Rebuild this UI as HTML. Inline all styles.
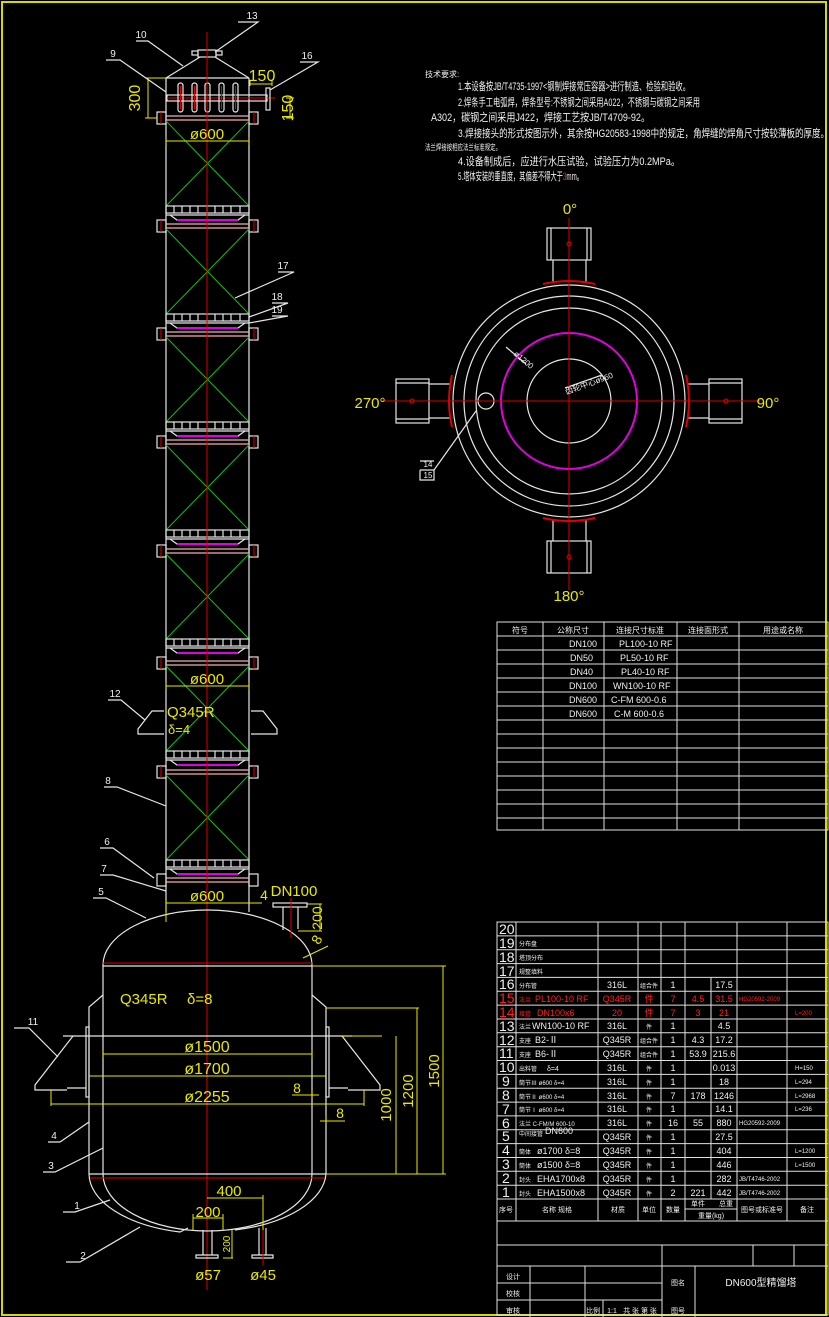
<!DOCTYPE html>
<html><head><meta charset="utf-8"><style>
html,body{margin:0;padding:0;background:#000;}
svg{display:block;}
text{font-family:"Liberation Sans","Noto Sans CJK SC",sans-serif;}
.w{stroke:#e6e6e6;fill:none;stroke-width:1.2}
.y{stroke:#e8e800;fill:none;stroke-width:1}
.r{stroke:#e00000;fill:none;stroke-width:1}
.g{stroke:#10c010;fill:none;stroke-width:1}
.m{stroke:#e000e0;fill:none;stroke-width:2}
.ty{fill:#e8e800}
.tw{fill:#f0f0f0}
.tr{fill:#ff2020}
</style></head><body>
<svg width="829" height="1317" viewBox="0 0 829 1317" xmlns="http://www.w3.org/2000/svg">
<defs>
<g id="sec">
  <rect x="157" y="-6" width="9" height="12" class="w"/>
  <rect x="249" y="-6" width="9" height="12" class="w"/>
  <line x1="161" y1="-6" x2="161" y2="6" class="r"/>
  <line x1="254" y1="-6" x2="254" y2="6" class="r"/>
  <line x1="166" y1="-2" x2="249" y2="-2" stroke="#f0b0b0" stroke-width="1.2"/>
  <line x1="166" y1="2" x2="249" y2="2" stroke="#f0b0b0" stroke-width="1.2"/>
  <line x1="166" y1="3" x2="249" y2="88" class="g"/>
  <line x1="249" y1="3" x2="166" y2="88" class="g"/>
  <rect x="166" y="88" width="83" height="7" class="w" stroke-width="1"/>
  <path d="M174 88v7M182 88v7M190 88v7M198 88v7M207 88v7M215 88v7M223 88v7M231 88v7M240 88v7" class="w" stroke-width="1"/>
  <line x1="166" y1="97" x2="249" y2="97" class="w" stroke-width="1"/>
  <path d="M170 97l7 5h61l7-5" class="w" stroke-width="1"/>
  <line x1="177" y1="102" x2="238" y2="102" class="m"/>
</g>
</defs>
<rect x="2" y="2" width="824" height="1313" fill="none" stroke="#d8d800" stroke-width="2"/>

<!-- column -->
<line x1="166" y1="78" x2="166" y2="912" class="w"/>
<line x1="249" y1="78" x2="249" y2="912" class="w"/>
<use href="#sec" y="118"/>
<use href="#sec" y="226"/>
<use href="#sec" y="334"/>
<use href="#sec" y="442"/>
<use href="#sec" y="551"/>
<use href="#sec" y="663"/>
<use href="#sec" y="772"/>
<rect x="157" y="874" width="9" height="12" class="w"/>
<rect x="249" y="874" width="9" height="12" class="w"/>
<line x1="166" y1="878" x2="249" y2="878" stroke="#f0b0b0" stroke-width="1.2"/>
<line x1="166" y1="882" x2="249" y2="882" stroke="#f0b0b0" stroke-width="1.2"/>
<!-- head -->
<line x1="166" y1="78" x2="249" y2="78" class="w"/>
<line x1="166" y1="78" x2="200" y2="57" class="w"/>
<line x1="249" y1="78" x2="215" y2="57" class="w"/>
<rect x="198" y="50" width="18" height="7" class="w"/>
<rect x="192" y="51" width="6" height="4" class="w"/>
<rect x="216" y="51" width="6" height="4" class="w"/>
<rect x="167" y="95" width="100" height="6" class="w"/>
<line x1="167" y1="98" x2="275" y2="98" class="r" stroke-width="1.5"/>
<rect x="266" y="88" width="4" height="22" class="w"/>
<g class="w" stroke-width="1"><rect x="178" y="83" width="5" height="29" rx="2.5"/><rect x="192" y="83" width="5" height="29" rx="2.5"/><rect x="205" y="83" width="5" height="29" rx="2.5"/><rect x="219" y="83" width="5" height="29" rx="2.5"/><rect x="233" y="83" width="5" height="29" rx="2.5"/></g>
<g class="r" stroke-width="0.8"><line x1="180.5" y1="86" x2="180.5" y2="109"/><line x1="194.5" y1="86" x2="194.5" y2="109"/><line x1="221.5" y1="86" x2="221.5" y2="109"/><line x1="235.5" y1="86" x2="235.5" y2="109"/></g>
<line x1="207" y1="32" x2="207" y2="1290" class="r"/>
<!-- top dims -->
<path d="M148 78v40M145 78h21M145 118h12" class="y"/>
<text x="140" y="98" class="ty" font-size="16" transform="rotate(-90 140 98)" text-anchor="middle">300</text>
<path d="M250 84h22M250 80v6M272 80v6" class="y"/>
<text x="262" y="81" class="ty" font-size="16" text-anchor="middle">150</text>
<path d="M290 98v20M286 98h8M286 118h8" class="y"/>
<text x="293" y="108" class="ty" font-size="16" transform="rotate(-90 293 108)" text-anchor="middle">150</text>
<path d="M166 141h83M166 137v8M249 137v8" class="y"/>
<text x="207" y="139" class="ty" font-size="15" text-anchor="middle">ø600</text>
<path d="M166 686h83M166 682v8M249 682v8" class="y"/>
<text x="207" y="684" class="ty" font-size="15" text-anchor="middle">ø600</text>
<text x="167" y="717" class="ty" font-size="15">Q345R</text>
<text x="168" y="734" class="ty" font-size="13">δ=4</text>
<!-- mid lugs -->
<path d="M164 711h-12l-14 18v5h26" class="w" stroke-width="1"/>
<path d="M251 711h12l14 18v5h-26" class="w" stroke-width="1"/>
<!-- leader labels -->
<g class="w" stroke-width="1">
<path d="M238 22h20l-43 30"/><path d="M136 41h12l35 25"/><path d="M106 60h14l46 32"/><path d="M300 62h18l-48 28"/>
<path d="M278 272h16l-59 26"/><path d="M272 303h16l-39 14"/><path d="M272 316h16l-39 7"/>
<path d="M108 700h13l24 20"/><path d="M104 787h13l49 19"/><path d="M100 848h13l41 30"/><path d="M100 875h13l53 16"/><path d="M93 898h13l40 20"/>
<path d="M14 1028h15l29 29"/><path d="M48 1142h12l29 -20"/><path d="M43 1172h12l48 -24"/><path d="M63 1212h12l35 -12"/><path d="M66 1262h14l60 -35"/>
</g>
<g class="tw" font-size="10" text-anchor="middle">
<text x="252" y="19">13</text><text x="141" y="38">10</text><text x="113" y="57">9</text><text x="307" y="59">16</text>
<text x="283" y="269">17</text><text x="277" y="300">18</text><text x="277" y="313">19</text>
<text x="115" y="697">12</text><text x="108" y="784">8</text><text x="107" y="845">6</text><text x="104" y="872">7</text><text x="101" y="895">5</text>
<text x="33" y="1025">11</text><text x="54" y="1139">4</text><text x="51" y="1169">3</text><text x="77" y="1209">1</text><text x="83" y="1259">2</text>
</g>
<!-- vessel -->
<path d="M103 965 A104.5 55 0 0 1 312 965" class="w" stroke-width="1.5"/>
<line x1="103" y1="963" x2="312" y2="963" class="r" stroke-width="1.5"/>
<line x1="103" y1="966" x2="312" y2="966" class="w" stroke-width="1"/>
<line x1="103" y1="965" x2="103" y2="1174" class="w" stroke-width="1.5"/>
<line x1="312" y1="965" x2="312" y2="1174" class="w" stroke-width="1.5"/>
<path d="M103 1174 A104.5 57 0 0 0 312 1174" class="w" stroke-width="1.5"/>
<line x1="89" y1="1174" x2="326" y2="1174" class="w" stroke-width="1"/>
<line x1="89" y1="1178" x2="326" y2="1178" class="r" stroke-width="1.5"/>
<path d="M103 995 L89 1007 V1174 A118.5 60 0 0 0 180 1232 L188 1228 M235 1230 A118.5 60 0 0 0 326 1174 V1007 L312 995" class="w" stroke-width="1.5"/>
<!-- lugs -->
<rect x="86" y="1027" width="3" height="70" class="w" stroke-width="1"/>
<rect x="326" y="1027" width="3" height="70" class="w" stroke-width="1"/>
<line x1="63" y1="1036" x2="352" y2="1036" class="w" stroke-width="1"/>
<path d="M73 1036 L35 1085 V1090 H67 M67 1088 H86" class="w" stroke-width="1"/>
<path d="M342 1036 L380 1085 V1090 H348 M348 1088 H329" class="w" stroke-width="1"/>
<!-- nozzles -->
<path d="M283 907v23M298 907v22" class="w"/>
<rect x="273" y="903" width="34" height="4" class="w"/>
<line x1="291" y1="898" x2="291" y2="938" class="r"/>
<path d="M203 1230v25M212 1230v25M196 1255h22v3h-22z" class="w"/>
<path d="M259 1228v27M266 1228v27M252 1255h21v3h-21z" class="w"/>
<line x1="263" y1="1225" x2="263" y2="1265" class="r"/>
<!-- vessel dims -->
<path d="M166 903h83M166 900v22M262 903h-13" class="y"/>
<text x="207" y="901" class="ty" font-size="15" text-anchor="middle">ø600</text>
<text x="264" y="900" class="ty" font-size="14" text-anchor="middle">4</text>
<text x="294" y="896" class="ty" font-size="15" text-anchor="middle">DN100</text>
<path d="M307 904h15M298 931h24M320 904v27" class="y"/>
<text x="322" y="918" class="ty" font-size="14" transform="rotate(-90 322 918)" text-anchor="middle">200</text>
<text x="321" y="942" class="ty" font-size="14" transform="rotate(-60 321 942)" text-anchor="middle">8</text>
<line x1="303" y1="958" x2="328" y2="946" class="y"/>
<text x="120" y="1004" class="ty" font-size="15">Q345R</text>
<text x="187" y="1004" class="ty" font-size="15">δ=8</text>
<path d="M103 1054h209M103 1050v8M312 1050v8" class="y"/>
<text x="207" y="1052" class="ty" font-size="16" text-anchor="middle">ø1500</text>
<path d="M89 1076h237" class="y"/>
<text x="207" y="1074" class="ty" font-size="16" text-anchor="middle">ø1700</text>
<path d="M51 1104h313M51 1090v16M364 1090v16" class="y"/>
<text x="207" y="1102" class="ty" font-size="16" text-anchor="middle">ø2255</text>
<path d="M292 1095h27M312 1090v8" class="y"/>
<text x="297" y="1093" class="ty" font-size="14" text-anchor="middle">8</text>
<path d="M320 1121h25M326 1116v8" class="y"/>
<text x="340" y="1118" class="ty" font-size="14" text-anchor="middle">8</text>
<path d="M312 966h134M443 966v208M326 1008h93M417 1008v166M342 1036h40M396 1036v138M326 1174h120" class="y"/>
<text x="391" y="1105" class="ty" font-size="15" transform="rotate(-90 391 1105)" text-anchor="middle">1000</text>
<text x="413" y="1091" class="ty" font-size="15" transform="rotate(-90 413 1091)" text-anchor="middle">1200</text>
<text x="439" y="1071" class="ty" font-size="15" transform="rotate(-90 439 1071)" text-anchor="middle">1500</text>
<path d="M207 1198h56M263 1195v35" class="y"/>
<text x="229" y="1196" class="ty" font-size="15" text-anchor="middle">400</text>
<path d="M193 1218h30M193 1214v16M223 1214v16M223 1258h10M232 1230v28" class="y"/>
<text x="208" y="1217" class="ty" font-size="15" text-anchor="middle">200</text>
<text x="230" y="1244" class="ty" font-size="10" transform="rotate(-90 230 1244)" text-anchor="middle">200</text>
<text x="208" y="1280" class="ty" font-size="15" text-anchor="middle">ø57</text>
<text x="263" y="1280" class="ty" font-size="15" text-anchor="middle">ø45</text>

<!-- tech notes -->
<g class="tw" font-size="10">
<text x="425" y="77" font-size="8">技术要求:</text>
<text x="458" y="90" font-size="11" textLength="232" lengthAdjust="spacingAndGlyphs">1.本设备按JB/T4735-1997<钢制焊接常压容器>进行制造、检验和验收。</text>
<text x="458" y="106" font-size="11" textLength="242" lengthAdjust="spacingAndGlyphs">2.焊条手工电弧焊，焊条型号:不锈钢之间采用A022，不锈钢与碳钢之间采用</text>
<text x="431" y="121" font-size="11" textLength="219" lengthAdjust="spacingAndGlyphs">A302，碳钢之间采用J422，焊接工艺按JB/T4709-92。</text>
<text x="458" y="137" font-size="11" textLength="371" lengthAdjust="spacingAndGlyphs">3.焊接接头的形式按图示外，其余按HG20583-1998中的规定，角焊缝的焊角尺寸按较薄板的厚度。</text>
<text x="425" y="150" font-size="8" textLength="76" lengthAdjust="spacingAndGlyphs">法兰焊接按相应法兰标准规定。</text>
<text x="458" y="165" font-size="11" textLength="222" lengthAdjust="spacingAndGlyphs">4.设备制成后，应进行水压试验，试验压力为0.2MPa。</text>
<text x="458" y="180" font-size="11" textLength="125" lengthAdjust="spacingAndGlyphs">5.塔体安装的垂直度，其偏差不得大于<tspan class="tr">3</tspan>mm。</text>
</g>

<!-- plan view -->
<g class="w" stroke-width="1">
<circle cx="569" cy="401" r="116"/><circle cx="569" cy="401" r="105"/><circle cx="569" cy="401" r="93"/><circle cx="569" cy="401" r="42"/>
<circle cx="486" cy="401" r="8"/>
<rect x="547" y="228" width="44" height="32"/><path d="M553 260v23M586 260v23M551 228v32M587 228v32"/>
<rect x="547" y="541" width="44" height="32"/><path d="M553 541v-21M586 541v-21M551 541v32M587 541v32"/>
<rect x="396" y="379" width="33" height="44"/><path d="M429 384h21M429 418h21M396 383h33M396 419h33"/>
<rect x="709" y="379" width="33" height="44"/><path d="M709 384h-21M709 418h-21M709 383h33M709 419h33"/>
<path d="M476 411L434 470H420M420 461h14M420 470v10h14v-10"/>
<path d="M506 347l20 17M602 375l-37 13"/>
</g>
<circle cx="569" cy="401" r="68" class="m" stroke-width="1.2"/>
<g class="r"><line x1="569" y1="218" x2="569" y2="590"/><line x1="382" y1="401" x2="760" y2="401"/>
<path d="M543 284 A116 116 0 0 1 595 284" stroke-width="2"/><path d="M543 518 A116 116 0 0 0 595 518" stroke-width="2"/>
<path d="M452 375 A116 116 0 0 0 452 427" stroke-width="2"/><path d="M686 375 A116 116 0 0 1 686 427" stroke-width="2"/>
<circle cx="569" cy="244" r="2"/><circle cx="569" cy="557" r="2"/><circle cx="412" cy="401" r="2"/><circle cx="726" cy="401" r="2"/></g>
<g class="ty" font-size="15" text-anchor="middle"><text x="570" y="214">0°</text><text x="768" y="408">90°</text><text x="370" y="408">270°</text><text x="569" y="601">180°</text></g>
<text x="428" y="467" class="tw" font-size="8" text-anchor="middle">14</text>
<text x="428" y="478" class="tw" font-size="8" text-anchor="middle">15</text>
<text x="522" y="362" class="tw" font-size="8" transform="rotate(40 522 362)" text-anchor="middle">ø1200</text>
<text x="590" y="386" class="tw" font-size="8" transform="rotate(-20 590 386)" text-anchor="middle">齿轮中心ø960</text>

<!-- nozzle table -->
<g stroke="#e0e0e0" stroke-width="1" fill="none">
<rect x="497" y="622" width="331" height="208"/>
<path d="M543 622v208M604 622v208M677 622v208M739 622v208"/>
<path d="M497 636h331M497 650h331M497 664h331M497 678h331M497 692h331M497 706h331M497 720h331M497 734h331M497 748h331M497 762h331M497 776h331M497 790h331M497 804h331M497 818h331"/>
</g>
<g class="tw" font-size="8" text-anchor="middle">
<text x="520" y="633">符号</text><text x="573" y="633">公称尺寸</text><text x="640" y="633">连接尺寸标准</text><text x="708" y="633">连接面形式</text><text x="783" y="633">用途或名称</text>
</g>
<g class="tw" font-size="9">
<text x="569" y="647">DN100</text><text x="619" y="647">PL100-10  RF</text>
<text x="570" y="661">DN50</text><text x="620" y="661">PL50-10  RF</text>
<text x="570" y="675">DN40</text><text x="621" y="675">PL40-10  RF</text>
<text x="569" y="689">DN100</text><text x="613" y="689">WN100-10  RF</text>
<text x="569" y="703">DN600</text><text x="611" y="703">C-FM 600-0.6</text>
<text x="569" y="717">DN600</text><text x="614" y="717">C-M 600-0.6</text>
</g>

<!-- parts list -->
<g stroke="#e0e0e0" stroke-width="1" fill="none">
<rect x="497" y="922" width="331" height="393"/>
<path d="M516 922v299M598 922v299M638 922v299M661 922v299M685 922v299M737 922v299M787 922v299M711 977v222M685 1209h52"/>
<path d="M497 935.9h331M497 949.7h331M497 963.6h331M497 977.4h331M497 991.3h331M497 1005.1h331M497 1019h331M497 1032.8h331M497 1046.7h331M497 1060.5h331M497 1074.4h331M497 1088.2h331M497 1102.1h331M497 1115.9h331M497 1129.8h331M497 1143.6h331M497 1157.5h331M497 1171.3h331M497 1185.2h331M497 1199h331M497 1221h331M497 1245h331M497 1266h331"/>
<path d="M662 1245v72M753 1245v21M794 1245v21M530 1266v51M585 1266v51M695 1266v51M497 1283h165M497 1300h165M603 1300v17"/>
</g>
<g class="tw" font-size="14">
<text x="499" y="934">20</text><text x="499" y="948">19</text><text x="499" y="962">18</text><text x="499" y="976">17</text><text x="499" y="989">16</text>
<text x="499" y="1003" class="tr">15</text><text x="499" y="1017" class="tr">14</text>
<text x="499" y="1031">13</text><text x="499" y="1045">12</text><text x="499" y="1058">11</text><text x="499" y="1072">10</text>
<text x="502" y="1086">9</text><text x="502" y="1100">8</text><text x="502" y="1114">7</text><text x="502" y="1128">6</text><text x="502" y="1141">5</text><text x="502" y="1155">4</text><text x="502" y="1169">3</text><text x="502" y="1183">2</text><text x="502" y="1197">1</text>
</g>
<g class="tw" font-size="9">
<text x="519" y="946" font-size="6">分布盘</text><text x="519" y="960" font-size="6">塔顶分布</text><text x="519" y="974" font-size="6">规整填料</text>
<text x="519" y="988" font-size="6">分布管</text><text x="617" y="988" text-anchor="middle">316L</text><text x="649" y="988" font-size="6" text-anchor="middle">组合件</text><text x="673" y="988" text-anchor="middle">1</text><text x="724" y="988" text-anchor="middle">17.5</text>
<g class="tr"><text x="519" y="1002" font-size="6">法兰</text><text x="535" y="1002">PL100-10 RF</text><text x="617" y="1002" text-anchor="middle">Q345R</text><text x="649" y="1002" text-anchor="middle">件</text><text x="673" y="1002" text-anchor="middle">7</text><text x="698" y="1002" text-anchor="middle">4.5</text><text x="724" y="1002" text-anchor="middle">31.5</text><text x="739" y="1001" font-size="6">HG20592-2009</text>
<text x="519" y="1016" font-size="6">接管</text><text x="537" y="1016">DN100x6</text><text x="617" y="1016" text-anchor="middle">20</text><text x="649" y="1016" text-anchor="middle">件</text><text x="673" y="1016" text-anchor="middle">7</text><text x="698" y="1016" text-anchor="middle">3</text><text x="724" y="1016" text-anchor="middle">21</text><text x="795" y="1015" font-size="6">L=200</text></g>
<text x="519" y="1029" font-size="6">法兰</text><text x="532" y="1029">WN100-10 RF</text><text x="617" y="1029" text-anchor="middle">316L</text><text x="649" y="1029" font-size="6" text-anchor="middle">件</text><text x="673" y="1029" text-anchor="middle">1</text><text x="724" y="1029" text-anchor="middle">4.5</text>
<text x="519" y="1043" font-size="6">支座</text><text x="535" y="1043">B2-Ⅱ</text><text x="617" y="1043" text-anchor="middle">Q345R</text><text x="649" y="1043" font-size="6" text-anchor="middle">组合件</text><text x="673" y="1043" text-anchor="middle">1</text><text x="698" y="1043" text-anchor="middle">4.3</text><text x="724" y="1043" text-anchor="middle">17.2</text>
<text x="519" y="1057" font-size="6">支座</text><text x="535" y="1057">B6-Ⅱ</text><text x="617" y="1057" text-anchor="middle">Q345R</text><text x="649" y="1057" font-size="6" text-anchor="middle">组合件</text><text x="673" y="1057" text-anchor="middle">1</text><text x="698" y="1057" text-anchor="middle">53.9</text><text x="724" y="1057" text-anchor="middle">215.6</text>
<text x="519" y="1071" font-size="6">出料管</text><text x="547" y="1071" font-size="7">δ=4</text><text x="617" y="1071" text-anchor="middle">316L</text><text x="649" y="1071" font-size="6" text-anchor="middle">件</text><text x="673" y="1071" text-anchor="middle">1</text><text x="724" y="1071" text-anchor="middle">0.013</text><text x="795" y="1070" font-size="6">H=150</text>
<text x="519" y="1085" font-size="6">筒节Ⅲ ø600  δ=4</text><text x="617" y="1085" text-anchor="middle">316L</text><text x="649" y="1085" font-size="6" text-anchor="middle">件</text><text x="673" y="1085" text-anchor="middle">1</text><text x="724" y="1085" text-anchor="middle">18</text><text x="795" y="1084" font-size="6">L=294</text>
<text x="519" y="1099" font-size="6">筒节Ⅱ ø600  δ=4</text><text x="617" y="1099" text-anchor="middle">316L</text><text x="649" y="1099" font-size="6" text-anchor="middle">件</text><text x="673" y="1099" text-anchor="middle">7</text><text x="698" y="1099" text-anchor="middle">178</text><text x="724" y="1099" text-anchor="middle">1246</text><text x="795" y="1098" font-size="6">L=2968</text>
<text x="519" y="1112" font-size="6">筒节Ⅰ ø600  δ=4</text><text x="617" y="1112" text-anchor="middle">316L</text><text x="649" y="1112" font-size="6" text-anchor="middle">件</text><text x="673" y="1112" text-anchor="middle">1</text><text x="724" y="1112" text-anchor="middle">14.1</text><text x="795" y="1111" font-size="6">L=236</text>
<text x="519" y="1126" font-size="6">法兰 C-FM/M 600-10</text><text x="617" y="1126" text-anchor="middle">316L</text><text x="649" y="1126" font-size="6" text-anchor="middle">件</text><text x="673" y="1126" text-anchor="middle">16</text><text x="698" y="1126" text-anchor="middle">55</text><text x="724" y="1126" text-anchor="middle">880</text><text x="739" y="1125" font-size="6">HG20592-2009</text>
<text x="519" y="1136" font-size="6">中间接管</text><text x="545" y="1134">DN600</text><text x="617" y="1140" text-anchor="middle">Q345R</text><text x="649" y="1140" font-size="6" text-anchor="middle">件</text><text x="673" y="1140" text-anchor="middle">1</text><text x="724" y="1140" text-anchor="middle">27.5</text>
<text x="519" y="1154" font-size="6">筒体</text><text x="537" y="1154">ø1700   δ=8</text><text x="617" y="1154" text-anchor="middle">Q345R</text><text x="649" y="1154" font-size="6" text-anchor="middle">件</text><text x="673" y="1154" text-anchor="middle">1</text><text x="724" y="1154" text-anchor="middle">404</text><text x="795" y="1153" font-size="6">L=1200</text>
<text x="519" y="1168" font-size="6">筒体</text><text x="537" y="1168">ø1500   δ=8</text><text x="617" y="1168" text-anchor="middle">Q345R</text><text x="649" y="1168" font-size="6" text-anchor="middle">件</text><text x="673" y="1168" text-anchor="middle">1</text><text x="724" y="1168" text-anchor="middle">446</text><text x="795" y="1167" font-size="6">L=1500</text>
<text x="519" y="1182" font-size="6">封头</text><text x="537" y="1182">EHA1700x8</text><text x="617" y="1182" text-anchor="middle">Q345R</text><text x="649" y="1182" font-size="6" text-anchor="middle">件</text><text x="673" y="1182" text-anchor="middle">1</text><text x="724" y="1182" text-anchor="middle">282</text><text x="739" y="1181" font-size="6">JB/T4746-2002</text>
<text x="519" y="1196" font-size="6">封头</text><text x="537" y="1196">EHA1500x8</text><text x="617" y="1196" text-anchor="middle">Q345R</text><text x="649" y="1196" font-size="6" text-anchor="middle">件</text><text x="673" y="1196" text-anchor="middle">2</text><text x="698" y="1196" text-anchor="middle">221</text><text x="724" y="1196" text-anchor="middle">442</text><text x="739" y="1195" font-size="6">JB/T4746-2002</text>
</g>
<g class="tw" font-size="7" text-anchor="middle">
<text x="506" y="1212">序号</text><text x="557" y="1212">名称   规格</text><text x="618" y="1212">材质</text><text x="649" y="1212">单位</text><text x="673" y="1212">数量</text><text x="698" y="1206">单件</text><text x="726" y="1206">总重</text><text x="711" y="1218">重量(kg)</text><text x="762" y="1212">图号或标准号</text><text x="807" y="1212">备注</text>
<text x="513" y="1279">设计</text><text x="513" y="1296">校核</text><text x="513" y="1313">审核</text>
<text x="593" y="1313">比例</text><text x="612" y="1313">1:1</text><text x="640" y="1313">共 张 第 张</text>
<text x="678" y="1285">图名</text><text x="678" y="1313">图号</text>
<text x="761" y="1286" font-size="10">DN600型精馏塔</text>
</g>
</svg>
</body></html>
